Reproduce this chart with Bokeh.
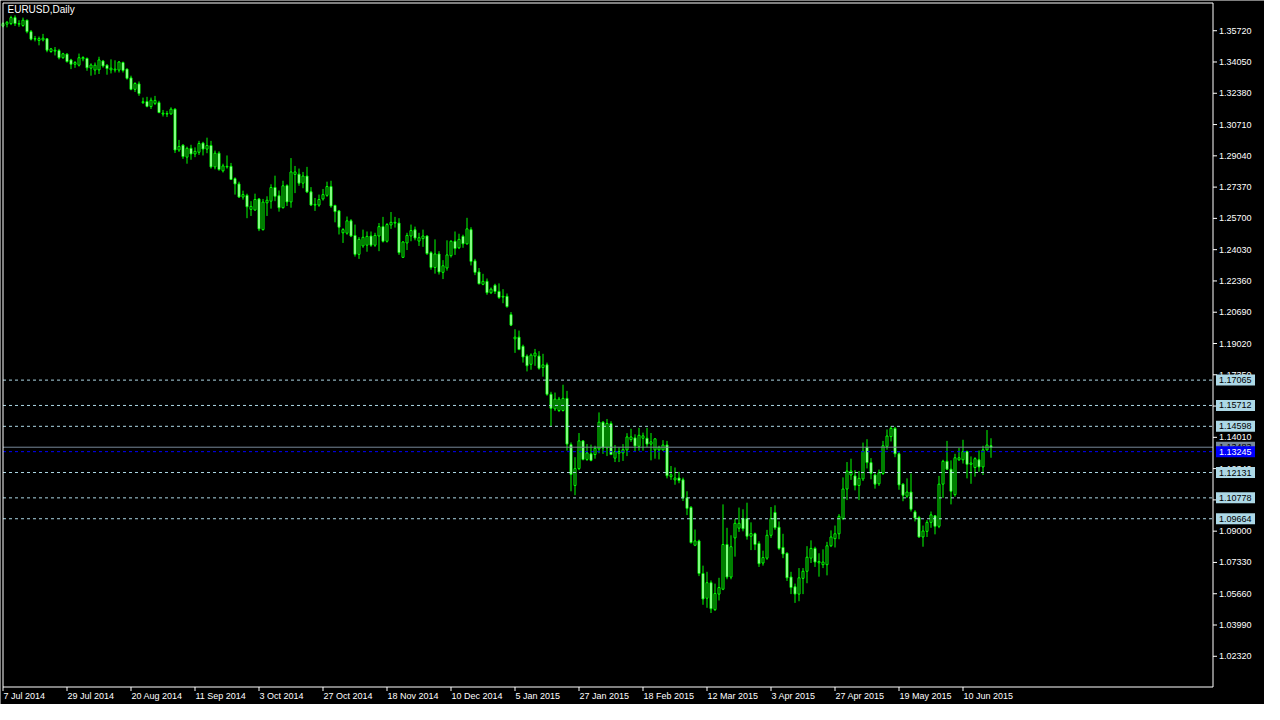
from bokeh.plotting import figure
from bokeh.models import Range1d, ColumnDataSource
from bokeh.core.properties import value
from bokeh.embed import file_html
from bokeh.resources import INLINE

# ---------------- data (EURUSD daily, 7 Jul 2014 .. 19 Jun 2015) ----------------
opens = [
1.3597,1.3607,1.3610,1.3642,1.3607,1.3600,1.3628,1.3567,1.3527,1.3520,
1.3523,1.3529,1.3461,1.3463,1.3466,1.3428,1.3447,1.3416,1.3393,1.3388,
1.3422,1.3424,1.3372,1.3362,1.3363,1.3410,1.3388,1.3363,1.3362,1.3362,
1.3402,1.3367,1.3320,1.3259,1.3288,1.3188,1.3194,1.3167,1.3184,1.3188,
1.3127,1.3127,1.3128,1.3153,1.2935,1.2961,1.2897,1.2944,1.2914,1.2923,
1.2972,1.2940,1.2959,1.2845,1.2918,1.2824,1.2845,1.2848,1.2782,1.2754,
1.2684,1.2693,1.2618,1.2615,1.2674,1.2510,1.2653,1.2662,1.2735,1.2691,
1.2627,1.2745,1.2658,1.2805,1.2806,1.2758,1.2796,1.2712,1.2641,1.2641,
1.2674,1.2693,1.2740,1.2639,1.2610,1.2493,1.2491,1.2557,1.2479,1.2378,
1.2423,1.2427,1.2476,1.2427,1.2476,1.2526,1.2448,1.2535,1.2545,1.2545,
1.2362,1.2439,1.2476,1.2509,1.2449,1.2462,1.2476,1.2387,1.2308,1.2380,
1.2282,1.2305,1.2371,1.2448,1.2413,1.2474,1.2434,1.2510,1.2343,1.2284,
1.2218,1.2234,1.2173,1.2213,1.2180,1.2150,1.2154,1.2056,1.1927,1.1936,
1.1887,1.1835,1.1791,1.1835,1.1835,1.1774,1.1788,1.1631,1.1553,1.1544,
1.1544,1.1609,1.1362,1.1144,1.1234,1.1382,1.1283,1.1313,1.1309,1.1339,
1.1482,1.1344,1.1475,1.1290,1.1316,1.1318,1.1334,1.1389,1.1398,1.1353,
1.1396,1.1396,1.1365,1.1334,1.1334,1.1334,1.1360,1.1191,1.1174,1.1184,
1.1174,1.1078,1.1027,1.0825,1.0848,1.0674,1.0542,1.0625,1.0481,1.0564,
1.0590,1.0829,1.0655,1.0864,1.0916,1.0968,1.0968,1.0873,1.0886,1.0834,
1.0730,1.0756,1.0878,1.1000,1.0921,1.0813,1.0782,1.0655,1.0603,1.0564,
1.0648,1.0686,1.0756,1.0808,1.0731,1.0721,1.0721,1.0822,1.0860,1.0886,
1.0968,1.1125,1.1200,1.1195,1.1144,1.1179,1.1348,1.1266,1.1200,1.1153,
1.1208,1.1353,1.1405,1.1449,1.1313,1.1151,1.1087,1.1109,1.1003,1.0973,
1.0869,1.0899,1.0947,1.0982,1.0926,1.1151,1.1273,1.1231,1.1095,1.1281,
1.1281,1.1325,1.1257,1.1240,1.1281,1.1243,1.1334,1.1356]

highs = [
1.3617,1.3624,1.3652,1.3654,1.3628,1.3642,1.3631,1.3576,1.3544,1.3541,
1.3555,1.3532,1.3480,1.3485,1.3475,1.3454,1.3452,1.3422,1.3410,1.3450,
1.3436,1.3429,1.3398,1.3402,1.3433,1.3416,1.3393,1.3419,1.3414,1.3410,
1.3407,1.3370,1.3332,1.3297,1.3301,1.3215,1.3219,1.3215,1.3224,1.3198,
1.3149,1.3144,1.3163,1.3158,1.2989,1.2966,1.2953,1.2963,1.2949,1.2984,
1.2979,1.3001,1.2984,1.2932,1.2928,1.2862,1.2906,1.2866,1.2789,1.2766,
1.2718,1.2702,1.2662,1.2702,1.2679,1.2674,1.2688,1.2752,1.2798,1.2719,
1.2771,1.2752,1.2892,1.2850,1.2836,1.2818,1.2845,1.2737,1.2679,1.2697,
1.2727,1.2766,1.2771,1.2643,1.2615,1.2518,1.2580,1.2566,1.2537,1.2470,
1.2510,1.2500,1.2500,1.2493,1.2545,1.2578,1.2545,1.2604,1.2578,1.2571,
1.2449,1.2493,1.2537,1.2526,1.2493,1.2510,1.2479,1.2395,1.2458,1.2395,
1.2347,1.2453,1.2453,1.2500,1.2488,1.2483,1.2573,1.2523,1.2354,1.2305,
1.2274,1.2249,1.2201,1.2221,1.2223,1.2192,1.2169,1.2070,1.1978,1.1971,
1.1896,1.1844,1.1849,1.1873,1.1861,1.1847,1.1800,1.1644,1.1640,1.1617,
1.1682,1.1649,1.1374,1.1295,1.1424,1.1386,1.1365,1.1362,1.1356,1.1534,
1.1487,1.1499,1.1487,1.1360,1.1348,1.1365,1.1423,1.1447,1.1417,1.1452,
1.1426,1.1452,1.1424,1.1396,1.1356,1.1386,1.1382,1.1248,1.1240,1.1217,
1.1186,1.1113,1.1034,1.0909,1.0855,1.0716,1.0683,1.0637,1.0620,1.0651,
1.1043,1.0918,1.0878,1.0965,1.1026,1.1017,1.1052,1.0947,1.0892,1.0846,
1.0796,1.0907,1.1029,1.1038,1.0952,1.0886,1.0787,1.0683,1.0620,1.0703,
1.0703,1.0820,1.0851,1.0817,1.0782,1.0803,1.0843,1.0904,1.0930,1.0991,
1.1187,1.1269,1.1287,1.1226,1.1221,1.1373,1.1391,1.1290,1.1208,1.1229,
1.1382,1.1443,1.1461,1.1457,1.1321,1.1156,1.1182,1.1208,1.1012,1.0982,
1.0930,1.0959,1.1005,1.0986,1.1195,1.1281,1.1382,1.1278,1.1313,1.1344,
1.1388,1.1330,1.1299,1.1295,1.1330,1.1356,1.1440,1.1396]

lows = [
1.3590,1.3590,1.3602,1.3597,1.3593,1.3593,1.3558,1.3520,1.3515,1.3494,
1.3515,1.3457,1.3454,1.3440,1.3419,1.3422,1.3402,1.3367,1.3374,1.3381,
1.3409,1.3358,1.3332,1.3337,1.3341,1.3375,1.3337,1.3344,1.3349,1.3349,
1.3349,1.3311,1.3254,1.3245,1.3224,1.3181,1.3163,1.3154,1.3175,1.3132,
1.3114,1.3111,1.3123,1.2919,1.2925,1.2888,1.2862,1.2883,1.2897,1.2909,
1.2906,1.2918,1.2836,1.2832,1.2824,1.2815,1.2836,1.2775,1.2697,1.2679,
1.2670,1.2571,1.2583,1.2610,1.2502,1.2505,1.2583,1.2622,1.2662,1.2606,
1.2623,1.2636,1.2627,1.2705,1.2744,1.2731,1.2705,1.2636,1.2610,1.2632,
1.2665,1.2685,1.2627,1.2549,1.2484,1.2439,1.2483,1.2470,1.2366,1.2354,
1.2413,1.2392,1.2418,1.2418,1.2395,1.2441,1.2441,1.2514,1.2521,1.2375,
1.2361,1.2401,1.2448,1.2453,1.2423,1.2418,1.2375,1.2296,1.2275,1.2270,
1.2246,1.2291,1.2361,1.2375,1.2406,1.2413,1.2430,1.2319,1.2267,1.2218,
1.2213,1.2162,1.2166,1.2166,1.2140,1.2117,1.2093,1.1995,1.1852,1.1866,
1.1800,1.1753,1.1762,1.1783,1.1762,1.1725,1.1623,1.1461,1.1542,1.1536,
1.1539,1.1330,1.1113,1.1092,1.1226,1.1278,1.1275,1.1273,1.1287,1.1316,
1.1313,1.1301,1.1307,1.1269,1.1269,1.1275,1.1301,1.1377,1.1327,1.1330,
1.1330,1.1348,1.1278,1.1287,1.1283,1.1330,1.1182,1.1174,1.1148,1.1156,
1.1061,1.0986,1.0834,1.0820,1.0660,1.0507,1.0491,1.0463,1.0474,1.0530,
1.0585,1.0643,1.0643,1.0764,1.0896,1.0899,1.0855,1.0799,1.0799,1.0709,
1.0716,1.0747,1.0864,1.0907,1.0799,1.0756,1.0634,1.0564,1.0517,1.0526,
1.0564,1.0622,1.0730,1.0709,1.0657,1.0703,1.0664,1.0815,1.0813,1.0857,
1.0959,1.1066,1.1174,1.1118,1.1066,1.1168,1.1235,1.1177,1.1127,1.1142,
1.1200,1.1335,1.1379,1.1295,1.1121,1.1060,1.1078,1.1005,1.0952,1.0865,
1.0817,1.0869,1.0918,1.0883,1.0916,1.1078,1.1226,1.1043,1.1084,1.1275,
1.1261,1.1182,1.1153,1.1191,1.1217,1.1200,1.1330,1.1292]

closes = [
1.3610,1.3617,1.3642,1.3610,1.3610,1.3628,1.3567,1.3527,1.3530,1.3530,
1.3532,1.3468,1.3475,1.3468,1.3428,1.3449,1.3407,1.3393,1.3402,1.3428,
1.3429,1.3374,1.3389,1.3388,1.3416,1.3384,1.3370,1.3372,1.3367,1.3405,
1.3360,1.3318,1.3259,1.3290,1.3236,1.3193,1.3168,1.3201,1.3200,1.3135,
1.3132,1.3130,1.3153,1.2935,1.2954,1.2900,1.2944,1.2914,1.2928,1.2970,
1.2940,1.2959,1.2845,1.2918,1.2831,1.2850,1.2848,1.2778,1.2754,1.2684,
1.2697,1.2632,1.2634,1.2671,1.2514,1.2657,1.2667,1.2735,1.2688,1.2627,
1.2744,1.2658,1.2818,1.2818,1.2758,1.2796,1.2711,1.2641,1.2645,1.2671,
1.2697,1.2740,1.2636,1.2606,1.2523,1.2510,1.2557,1.2476,1.2378,1.2458,
1.2469,1.2474,1.2427,1.2479,1.2526,1.2448,1.2537,1.2549,1.2549,1.2387,
1.2444,1.2479,1.2505,1.2465,1.2467,1.2476,1.2382,1.2308,1.2380,1.2284,
1.2317,1.2375,1.2448,1.2409,1.2458,1.2434,1.2514,1.2340,1.2282,1.2221,
1.2234,1.2173,1.2192,1.2180,1.2148,1.2154,1.2099,1.2000,1.1936,1.1870,
1.1830,1.1783,1.1840,1.1851,1.1770,1.1788,1.1631,1.1556,1.1605,1.1605,
1.1609,1.1365,1.1203,1.1234,1.1382,1.1283,1.1318,1.1278,1.1342,1.1482,
1.1344,1.1475,1.1309,1.1325,1.1325,1.1335,1.1403,1.1403,1.1355,1.1412,
1.1409,1.1365,1.1377,1.1393,1.1348,1.1360,1.1196,1.1201,1.1184,1.1170,
1.1078,1.1022,1.0839,1.0848,1.0674,1.0538,1.0625,1.0486,1.0567,1.0599,
1.0829,1.0655,1.0817,1.0942,1.0942,1.0913,1.0873,1.0887,1.0829,1.0726,
1.0759,1.0878,1.0968,1.0918,1.0808,1.0778,1.0651,1.0599,1.0564,1.0651,
1.0686,1.0761,1.0808,1.0735,1.0738,1.0735,1.0822,1.0869,1.0886,1.0979,
1.1125,1.1221,1.1221,1.1144,1.1182,1.1327,1.1266,1.1208,1.1151,1.1212,
1.1356,1.1408,1.1449,1.1313,1.1147,1.1092,1.1109,1.1017,1.0970,1.0869,
1.0901,1.0947,1.0987,1.0926,1.1151,1.1273,1.1231,1.1113,1.1292,1.1292,
1.1325,1.1257,1.1264,1.1287,1.1243,1.1334,1.1360,1.1348]

date_tick_bars = [0, 16, 32, 48, 64, 80, 96, 112, 128, 144, 160, 176, 192, 208, 224, 240]
date_tick_labels = ["7 Jul 2014", "29 Jul 2014", "20 Aug 2014", "11 Sep 2014", "3 Oct 2014",
                    "27 Oct 2014", "18 Nov 2014", "10 Dec 2014", "5 Jan 2015", "27 Jan 2015",
                    "18 Feb 2015", "12 Mar 2015", "3 Apr 2015", "27 Apr 2015", "19 May 2015",
                    "10 Jun 2015"]
price_ticks = [1.0232, 1.0399, 1.0566, 1.0733, 1.0900, 1.1067, 1.1234, 1.1401, 1.1568, 1.1735,
               1.1902, 1.2069, 1.2236, 1.2403, 1.2570, 1.2737, 1.2904, 1.3071, 1.3238, 1.3405, 1.3572]
level_prices = [1.17065, 1.15712, 1.14598, 1.12131, 1.10778, 1.09664]
bid_price = 1.13483
alert_price = 1.13245
title_text = "EURUSD,Daily"

# ---------------- layout (whole canvas is the frame; MT4-style scales drawn by hand) ----------------
FONT = "Liberation Sans"
W, H = 1264, 704
L_PX, R_PX, T_PX, B_PX = 2.5, 1212.5, 2.5, 686.5   # chart window edges in canvas pixels
BAR_PX = 4.0
ux = 1.0 / BAR_PX                                   # bar units per pixel
chart_x0 = 0.0
chart_x1 = chart_x0 + (R_PX - L_PX) * ux
y_lo, y_hi = 1.0068, 1.3720
uy = (y_hi - y_lo) / (B_PX - T_PX)                 # price per pixel
TAG_W, TAG_H = 39, 11

p = figure(width=W, height=H, output_backend="svg", toolbar_location=None,
           x_range=Range1d(chart_x0 - L_PX * ux, chart_x1 + (W - R_PX) * ux),
           y_range=Range1d(y_lo - (H - B_PX) * uy, y_hi + T_PX * uy),
           x_axis_location=None, y_axis_location=None, min_border=0,
           background_fill_color="black", border_fill_color="black",
           outline_line_color=None)
p.grid.visible = False

# candles
n = len(opens)
src = ColumnDataSource(dict(
    x=list(range(n)), h=highs, l=lows,
    top=[max(o, c) for o, c in zip(opens, closes)],
    bottom=[min(o, c) for o, c in zip(opens, closes)],
    fill=["white" if c < o else "black" for o, c in zip(opens, closes)],
))
p.segment(x0="x", y0="h", x1="x", y1="l", source=src, line_color="#00ff00", line_width=1)
p.vbar(x="x", top="top", bottom="bottom", width=0.5, fill_color="fill",
       line_color="#00ff00", line_width=1, source=src)

# horizontal level lines (only across the chart window)
nl = len(level_prices)
p.segment(x0=[chart_x0] * nl, x1=[chart_x1] * nl, y0=level_prices, y1=level_prices,
          line_color="#add8e6", line_dash="3 3", line_width=1)
p.segment(x0=[chart_x0], x1=[chart_x1], y0=[bid_price], y1=[bid_price],
          line_color="#778899", line_width=1)
p.segment(x0=[chart_x0], x1=[chart_x1], y0=[alert_price], y1=[alert_price],
          line_color="#0000ff", line_dash="3 3", line_width=1)

# chart window border
p.quad(left=[chart_x0], right=[chart_x1], bottom=[y_lo], top=[y_hi],
       fill_color=None, line_color="white", line_width=1)

# right price scale
npt = len(price_ticks)
p.segment(x0=[chart_x1] * npt, x1=[chart_x1 + 4 * ux] * npt, y0=price_ticks, y1=price_ticks,
          line_color="white", line_width=1)
p.text(x=[chart_x1 + 6 * ux] * npt, y=price_ticks, text=[f"{t:.5f}" for t in price_ticks],
       text_align="left", text_baseline="middle", text_color="white",
       text_font=value(FONT), text_font_size="9px")

# bottom time scale
ndt = len(date_tick_bars)
p.segment(x0=date_tick_bars, x1=date_tick_bars, y0=[y_lo] * ndt, y1=[y_lo - 4 * uy] * ndt,
          line_color="white", line_width=1)
p.text(x=[b + 0.5 * ux for b in date_tick_bars], y=[y_lo - 4 * uy] * ndt, text=date_tick_labels,
       text_align="left", text_baseline="top", text_color="white",
       text_font=value(FONT), text_font_size="9px")

# price tags on the scale (level tags, then bid, then alert on top)
tag_prices = level_prices + [bid_price, alert_price]
tag_fill = ["#add8e6"] * nl + ["#778899", "#0000ff"]
tag_text_color = ["black"] * nl + ["black", "white"]
tags = ColumnDataSource(dict(
    x=[chart_x1 + (3 + TAG_W / 2) * ux] * len(tag_prices),
    tx=[chart_x1 + 6 * ux] * len(tag_prices),
    y=tag_prices, fill=tag_fill, tcol=tag_text_color,
    text=[f"{v:.5f}" for v in tag_prices],
))
for i in range(len(tag_prices)):
    view_src = ColumnDataSource({k: [v[i]] for k, v in tags.data.items()})
    p.rect(x="x", y="y", width=TAG_W, height=TAG_H, width_units="screen", height_units="screen",
           fill_color="fill", line_color=None, source=view_src)
    p.text(x="tx", y="y", text="text", text_color="tcol", text_align="left", text_baseline="middle",
           text_font=value(FONT), text_font_size="9px", source=view_src)

# title
p.text(x=[chart_x0 + 4.5 * ux], y=[y_hi - 1 * uy], text=[title_text],
       text_align="left", text_baseline="top", text_color="white",
       text_font=value(FONT), text_font_size="10px")

open("out.html", "w").write(file_html(p, INLINE))
